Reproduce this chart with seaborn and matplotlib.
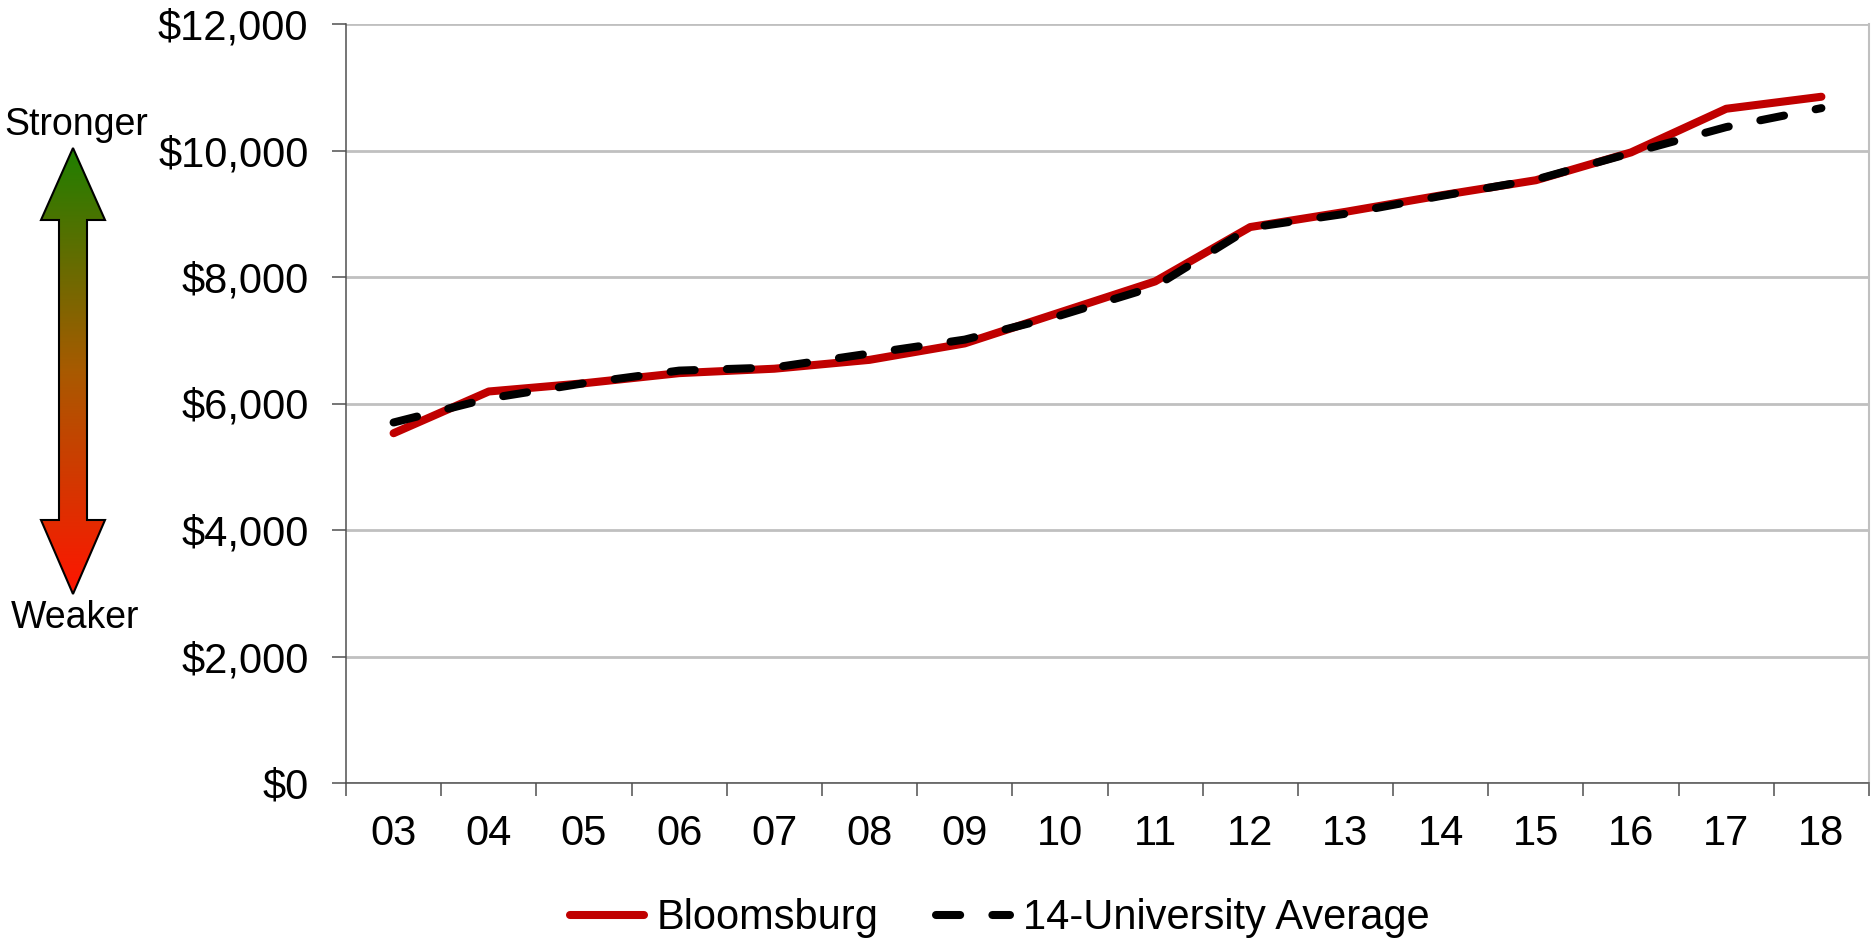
import numpy as np
import pandas as pd
import matplotlib
matplotlib.use('Agg')
import matplotlib.pyplot as plt
import seaborn as sns
from matplotlib.lines import Line2D
from matplotlib.patches import Polygon
from matplotlib.colors import LinearSegmentedColormap

# Data
years = ['03', '04', '05', '06', '07', '08', '09', '10',
         '11', '12', '13', '14', '15', '16', '17', '18']
bloomsburg = [5530, 6190, 6320, 6480, 6550, 6690, 6950, 7440,
              7930, 8790, 9030, 9290, 9530, 9970, 10660, 10850]
average = [5700, 6080, 6320, 6520, 6570, 6790, 7010, 7390,
           7850, 8780, 9000, 9280, 9540, 9960, 10370, 10670]
series_names = ['Bloomsburg', '14-University Average']
y_ticks = [0, 2000, 4000, 6000, 8000, 10000, 12000]

df = pd.DataFrame({
    'pos': list(range(len(years))) * 2,
    'tuition': bloomsburg + average,
    'series': [series_names[0]] * len(years) + [series_names[1]] * len(years),
})

sns.set_style('white')
plt.rcParams['font.family'] = ['Liberation Sans', 'DejaVu Sans']
plt.rcParams['text.color'] = 'black'
plt.rcParams['xtick.labelcolor'] = 'black'
plt.rcParams['ytick.labelcolor'] = 'black'

RED = '#C00000'
AXIS_GREY = '#505050'
GRID_GREY = '#C0C0C0'
DASH = (3.0, 4.0)
LW = 5.8

W, H = 1872, 942
fig = plt.figure(figsize=(W / 100, H / 100), dpi=100)
ax = fig.add_axes([346 / W, 1 - 783 / H, (1869 - 346) / W, (783 - 24) / H])

sns.lineplot(data=df, x='pos', y='tuition', hue='series', style='series',
             palette={series_names[0]: RED, series_names[1]: 'black'},
             dashes={series_names[0]: '', series_names[1]: DASH},
             linewidth=LW, ax=ax, legend=False)
for ln in ax.lines:
    ln.set_dash_capstyle('round')
    ln.set_solid_capstyle('round')
    ln.set_solid_joinstyle('round')

# Axes styling
ax.set_xlim(-0.5, len(years) - 0.5)
ax.set_ylim(0, 12000)
ax.set_xlabel('')
ax.set_ylabel('')
ax.set_yticks(y_ticks)
ax.set_yticklabels([f'${v:,.0f}' for v in y_ticks])
ax.set_xticks(range(len(years)))
ax.set_xticklabels(years)
ax.set_xticks(np.arange(-0.5, len(years)), minor=True)
ax.yaxis.grid(True, color=GRID_GREY, linewidth=2)
ax.set_axisbelow(True)
ax.tick_params(axis='y', which='major', length=10, width=1.1, color=AXIS_GREY,
               labelsize=30, pad=17, left=True)
ax.tick_params(axis='x', which='major', length=0, labelsize=30, pad=22)
ax.tick_params(axis='x', which='minor', length=9, width=1.1, color=AXIS_GREY,
               bottom=True)
for side in ['left', 'bottom']:
    ax.spines[side].set_color(AXIS_GREY)
    ax.spines[side].set_linewidth(1.1)
ax.spines['top'].set_visible(False)
ax.spines['right'].set_color(GRID_GREY)
ax.spines['right'].set_linewidth(1.5)

# Legend
handles = [Line2D([], [], color=RED, lw=LW, solid_capstyle='round'),
           Line2D([], [], color='black', lw=LW, dashes=DASH,
                  dash_capstyle='round')]
fig.legend(handles, series_names, loc='center', bbox_to_anchor=(0.534, 0.025),
           ncol=2, frameon=False, fontsize=30, handlelength=1.77,
           handletextpad=0.3, columnspacing=1.4)

# Stronger / Weaker gradient arrow on the left (pixel coordinates)
ov = fig.add_axes([0, 0, 1, 1], zorder=-1)
ov.axis('off')
cx, shaft, head = 73, 14, 32
top_tip, top_base, bot_base, bot_tip = 148, 220, 520, 594
pts = [(cx, top_tip), (cx + head, top_base), (cx + shaft, top_base),
       (cx + shaft, bot_base), (cx + head, bot_base), (cx, bot_tip),
       (cx - head, bot_base), (cx - shaft, bot_base), (cx - shaft, top_base),
       (cx - head, top_base)]
arrow = Polygon(pts, closed=True, facecolor='none', edgecolor='black', lw=1.5,
                zorder=3)
ov.add_patch(arrow)
cmap = LinearSegmentedColormap.from_list('sw', ['#1F7F00', '#A85A00', '#FF1500'])
grad = np.linspace(0, 1, 256).reshape(-1, 1)
im = ov.imshow(grad, cmap=cmap, aspect='auto', origin='upper',
               extent=(cx - head, cx + head, bot_tip, top_tip))
im.set_clip_path(arrow)
ov.set_xlim(0, W)
ov.set_ylim(H, 0)
ov.text(76, 135, 'Stronger', fontsize=27, ha='center', va='baseline')
ov.text(75, 628, 'Weaker', fontsize=27, ha='center', va='baseline')

fig.savefig('out.png', dpi=100)
